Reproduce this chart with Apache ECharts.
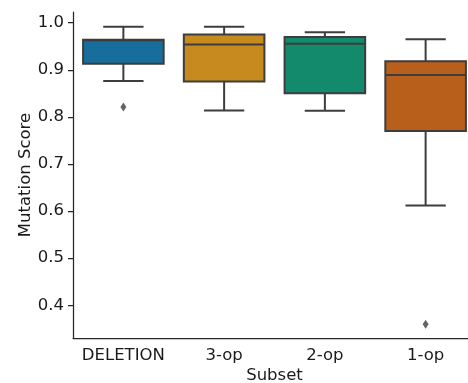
<!DOCTYPE html>
<html>
<head>
<meta charset="utf-8">
<script src="https://cdn.jsdelivr.net/npm/echarts@6/dist/echarts.min.js"></script>
<style>html,body{margin:0;padding:0;background:#fff;overflow:hidden}#c{width:468px;height:383px}</style>
</head>
<body>
<div id="c"></div>
<script>
var categories = ['DELETION', '3-op', '2-op', '1-op'];
// [lowerWhisker, Q1, median, Q3, upperWhisker]
var boxStats = [
  [0.876, 0.913, 0.963, 0.964, 0.9915],
  [0.8135, 0.875, 0.954, 0.975, 0.9915],
  [0.8128, 0.850, 0.9553, 0.9696, 0.980],
  [0.612, 0.770, 0.889, 0.918, 0.9647]
];
var outliers = [[0, 0.821], [3, 0.3596]];
var colors = ['#176d9c', '#c68a1f', '#138a6c', '#b95f1c'];
var yTicks = [0.4, 0.5, 0.6, 0.7, 0.8, 0.9, 1.0];

var lineColor = '#3d3d3d';
var boxData = boxStats.map(function (s, i) { return [i].concat(s); });

var chart = echarts.init(document.getElementById('c'), null, {renderer: 'canvas'});
chart.setOption({
  animation: false,
  backgroundColor: '#fff',
  grid: {left: 73, width: 403, top: 12, height: 326, containLabel: false, outerBoundsMode: 'none'},
  xAxis: {
    type: 'category',
    data: categories,
    boundaryGap: true,
    name: 'Subset',
    nameLocation: 'middle',
    nameMoveOverlap: false,
    nameGap: 29,
    nameTextStyle: {fontFamily: 'DejaVu Sans', fontSize: 16.5, color: '#1a1a1a'},
    axisLine: {lineStyle: {color: '#262626', width: 1.25}},
    axisTick: {alignWithLabel: true, length: 5, lineStyle: {color: '#262626', width: 1.25}},
    axisLabel: {interval: 0, fontFamily: 'DejaVu Sans', fontSize: 16.5, color: '#1a1a1a', margin: 9},
    splitLine: {show: false}
  },
  yAxis: {
    type: 'value',
    min: 0.3304,
    max: 1.0228,
    name: 'Mutation Score',
    nameLocation: 'middle',
    nameMoveOverlap: false,
    nameRotate: 90,
    nameGap: 39,
    nameTextStyle: {fontFamily: 'DejaVu Sans', fontSize: 16.5, color: '#1a1a1a'},
    axisLine: {show: true, lineStyle: {color: '#262626', width: 1.25}},
    axisTick: {show: true, length: 5, customValues: yTicks, lineStyle: {color: '#262626', width: 1.25}},
    axisLabel: {
      fontFamily: 'DejaVu Sans', fontSize: 16.5, color: '#1a1a1a', margin: 9,
      customValues: yTicks,
      formatter: function (v) { return v.toFixed(1); }
    },
    splitLine: {show: false}
  },
  series: [
    {
      type: 'custom',
      data: boxData,
      encode: {x: 0, y: [1, 2, 3, 4, 5]},
      renderItem: function (params, api) {
        var i = api.value(0);
        var bw = api.size([1, 0])[0] * 0.8;
        var cx = api.coord([i, api.value(3)])[0];
        var yMin = api.coord([i, api.value(1)])[1];
        var yQ1 = api.coord([i, api.value(2)])[1];
        var yMed = api.coord([i, api.value(3)])[1];
        var yQ3 = api.coord([i, api.value(4)])[1];
        var yMax = api.coord([i, api.value(5)])[1];
        var ls = {stroke: lineColor, lineWidth: 2};
        var cap = bw / 4;
        return {
          type: 'group',
          children: [
            {type: 'line', shape: {x1: cx, y1: yQ1, x2: cx, y2: yMin}, style: ls},
            {type: 'line', shape: {x1: cx, y1: yQ3, x2: cx, y2: yMax}, style: ls},
            {type: 'line', shape: {x1: cx - cap, y1: yMin, x2: cx + cap, y2: yMin}, style: ls},
            {type: 'line', shape: {x1: cx - cap, y1: yMax, x2: cx + cap, y2: yMax}, style: ls},
            {type: 'rect', shape: {x: cx - bw / 2, y: yQ3, width: bw, height: yQ1 - yQ3},
              style: {fill: colors[i], stroke: lineColor, lineWidth: 2}},
            {type: 'line', shape: {x1: cx - bw / 2, y1: yMed, x2: cx + bw / 2, y2: yMed}, style: ls}
          ]
        };
      }
    },
    {
      type: 'scatter',
      data: outliers,
      symbol: 'diamond',
      symbolSize: [6, 9],
      itemStyle: {color: lineColor},
      z: 5
    }
  ]
});
</script>
</body>
</html>
